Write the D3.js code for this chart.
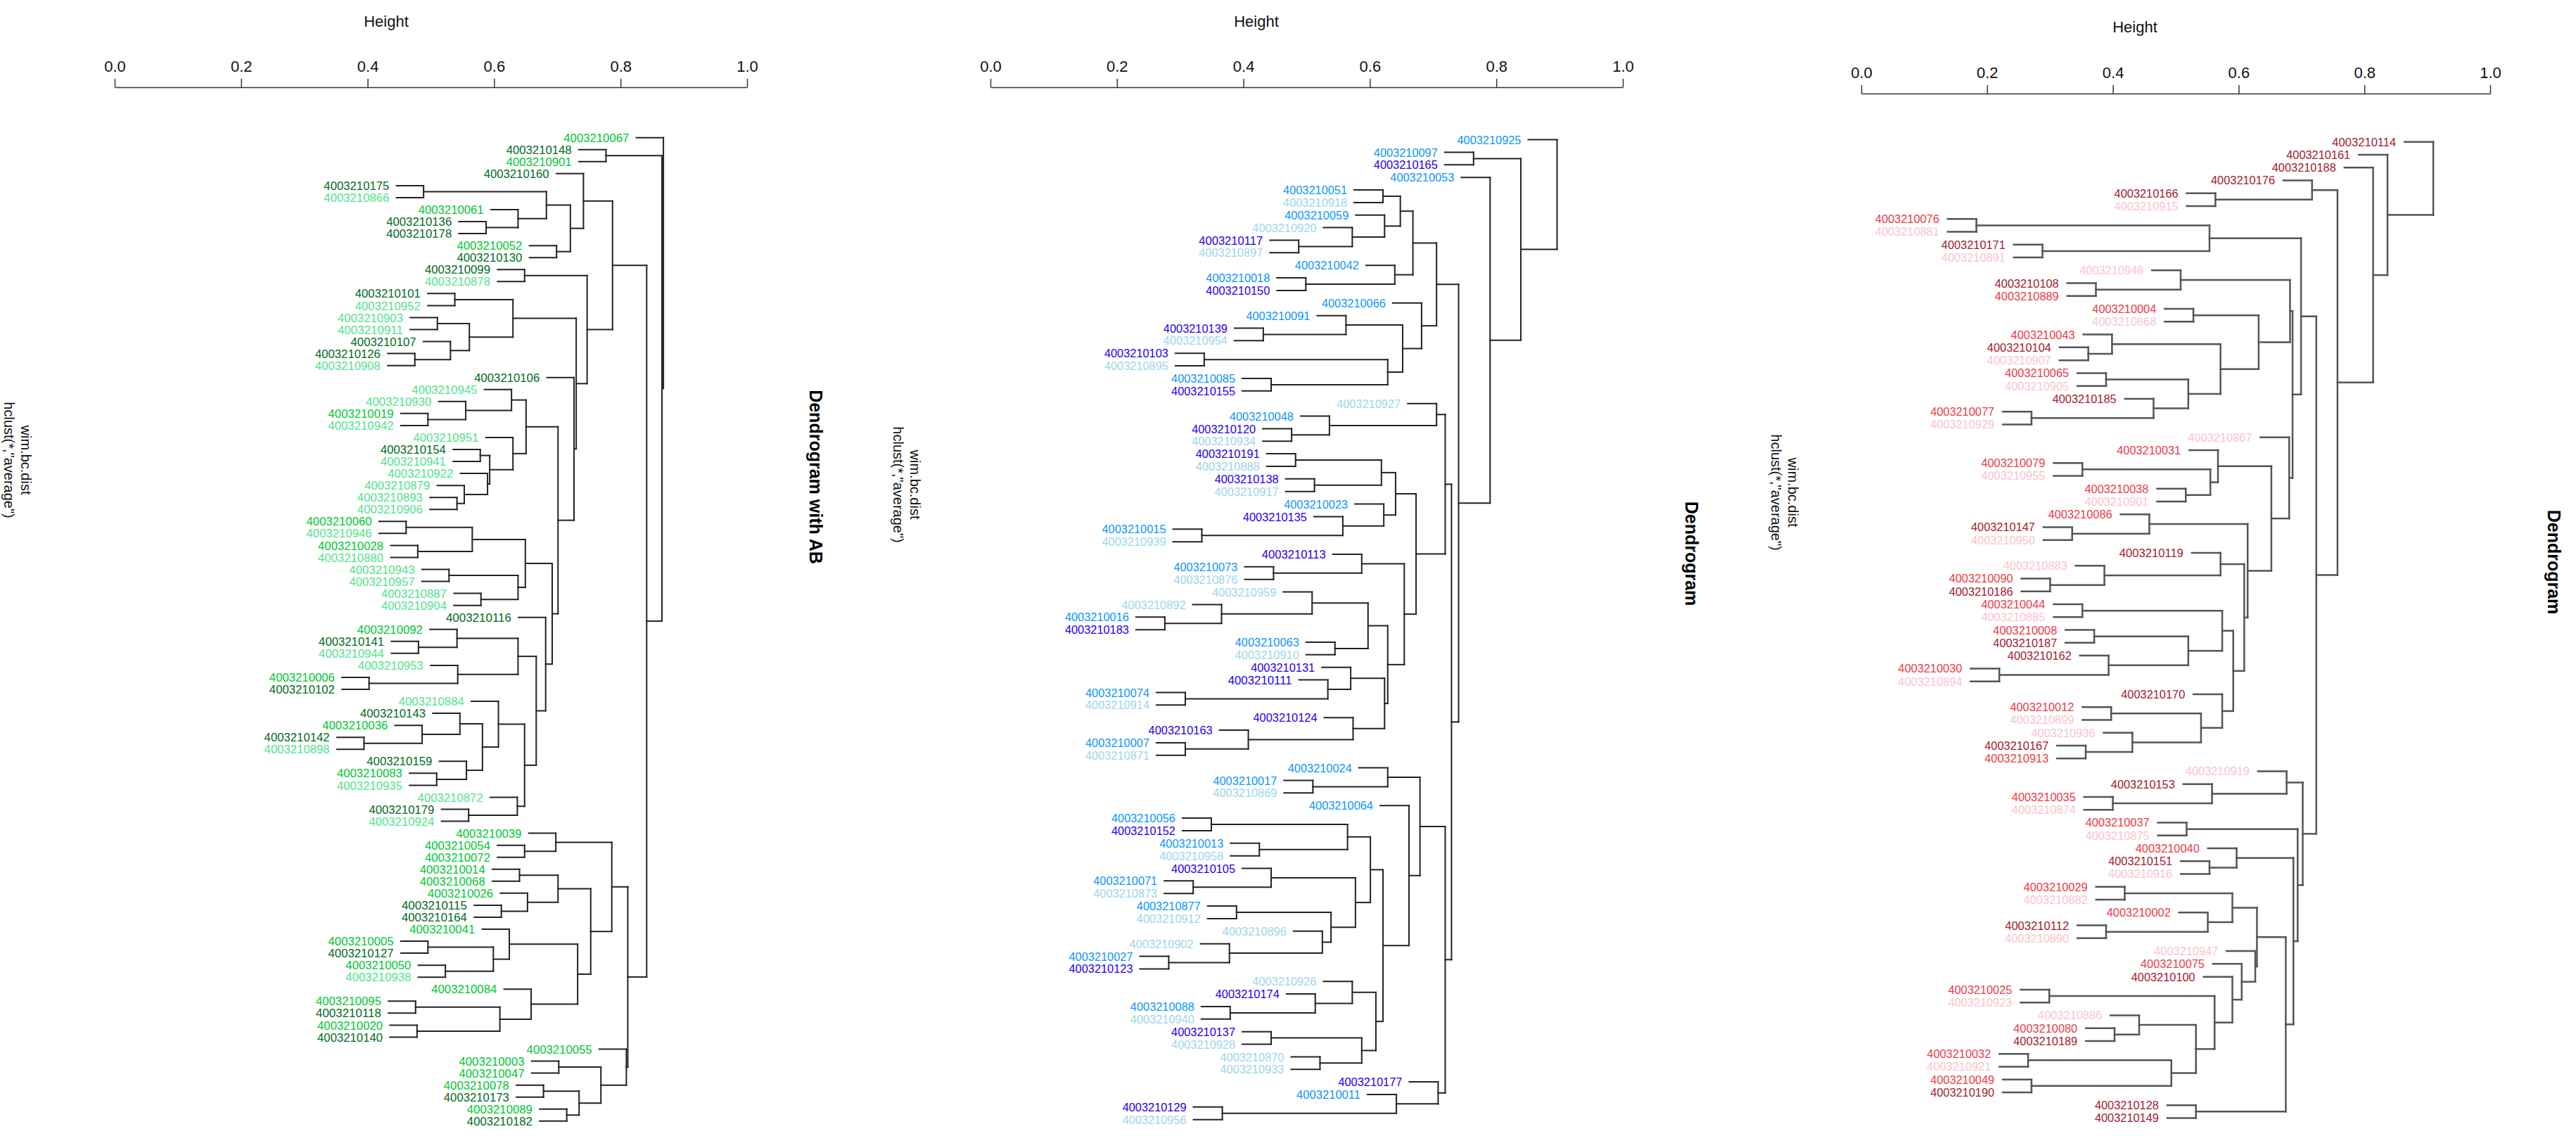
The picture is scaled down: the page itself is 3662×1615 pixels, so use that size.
<!DOCTYPE html>
<html>
<head>
<meta charset="utf-8">
<script src="https://cdn.jsdelivr.net/npm/d3@7"></script>
<style>
  body { margin: 0; background: #fff; }
  text { font-family: "Liberation Sans", Arial, sans-serif; }
</style>
</head>
<body>
<svg id="chart"></svg>
<script>
// ---------- data ----------
// leaf ids are the last three digits of "4003210xxx"
// merges: [node, height, upper child, lower child]; last row is the root

var leaves1 = ["067","148","901","160","175","866","061","136","178","052","130","099","878","101","952","903","911","107","126","908","106","945","930","019","942","951","154","941","922","879","893","906","060","946","028","880","943","957","887","904","116","092","141","944","953","006","102","884","143","036","142","898","159","083","935","872","179","924","039","054","072","014","068","026","115","164","041","005","127","050","938","084","095","118","020","140","055","003","047","078","173","089","182"];
var groups1 = "BDBDDLBDDB" + "DDLDLLLDDL" + "DLLBLLDLLL" + "LLBLBLLLLL" + "DBDLLBDLDB" + "DLDBLLDLBB" + "BBBBDDBBDB" + "LBBDBDBBBB" + "DBD";
var merges1 = [
  ["a01",0.501,"175","866"], ["a02",0.587,"136","178"], ["a03",0.631,"061","a02"], ["a04",0.670,"a01","a03"],
  ["a05",0.684,"052","130"], ["a06",0.703,"a04","a05"], ["a07",0.721,"160","a06"], ["a08",0.640,"099","878"],
  ["a09",0.544,"101","952"], ["a10",0.520,"903","911"], ["a11",0.489,"126","908"], ["a12",0.538,"107","a11"],
  ["a13",0.564,"a10","a12"], ["a14",0.624,"a09","a13"], ["a15",0.507,"019","942"], ["a16",0.559,"930","a15"],
  ["a17",0.622,"945","a16"], ["a18",0.579,"154","941"], ["a19",0.547,"893","906"], ["a20",0.557,"879","a19"],
  ["a21",0.589,"922","a20"], ["a22",0.592,"a18","a21"], ["a23",0.624,"951","a22"], ["a24",0.642,"a17","a23"],
  ["a25",0.477,"060","946"], ["a26",0.493,"028","880"], ["a27",0.568,"a25","a26"], ["a28",0.536,"943","957"],
  ["a29",0.580,"887","904"], ["a30",0.631,"a28","a29"], ["a31",0.641,"a27","a30"], ["a32",0.494,"141","944"],
  ["a33",0.547,"092","a32"], ["a34",0.426,"006","102"], ["a35",0.548,"953","a34"], ["a36",0.631,"a33","a35"],
  ["a37",0.419,"142","898"], ["a38",0.499,"036","a37"], ["a39",0.551,"143","a38"], ["a40",0.519,"083","935"],
  ["a41",0.560,"159","a40"], ["a42",0.582,"a39","a41"], ["a43",0.604,"884","a42"], ["a44",0.563,"179","924"],
  ["a45",0.630,"872","a44"], ["a46",0.640,"a43","a45"], ["a47",0.656,"a36","a46"], ["a48",0.669,"116","a47"],
  ["a49",0.678,"a31","a48"], ["a50",0.686,"a24","a49"], ["a51",0.708,"106","a50"], ["a52",0.711,"a14","a51"],
  ["a53",0.726,"a08","a52"], ["a54",0.761,"a07","a53"], ["a55",0.640,"054","072"], ["a56",0.683,"039","a55"],
  ["a57",0.633,"014","068"], ["a58",0.608,"115","164"], ["a59",0.644,"026","a58"], ["a60",0.686,"a57","a59"],
  ["a61",0.507,"005","127"], ["a62",0.531,"050","938"], ["a63",0.597,"a61","a62"], ["a64",0.619,"041","a63"],
  ["a65",0.490,"095","118"], ["a66",0.492,"020","140"], ["a67",0.606,"a65","a66"], ["a68",0.649,"084","a67"],
  ["a69",0.713,"a64","a68"], ["a70",0.731,"a60","a69"], ["a71",0.760,"a56","a70"], ["a72",0.687,"003","047"],
  ["a73",0.666,"078","173"], ["a74",0.698,"089","182"], ["a75",0.715,"a73","a74"], ["a76",0.745,"a72","a75"],
  ["a77",0.780,"055","a76"], ["a78",0.782,"a71","a77"], ["a79",0.808,"a54","a78"], ["a80",0.752,"148","901"],
  ["a81",0.829,"a80","a79"], ["a82",0.831,"067","a81"]
];

var leaves2 = ["925","097","165","053","051","918","059","920","117","897","042","018","150","066","091","139","954","103","895","085","155","927","048","120","934","191","888","138","917","023","135","015","939","113","073","876","959","892","016","183","063","910","131","111","074","914","124","163","007","871","024","017","869","064","056","152","013","958","105","071","873","877","912","896","902","027","123","926","174","088","940","137","928","870","933","177","011","129","956"];
var groups2 = "MMDMMLMLDL" + "MMDMMDLDLM" + "DLMDLDLDLM" + "DMLDMLLLMD" + "MLDDMLDDML" + "MMLMMDMLDM" + "LMLLLMDLDM" + "LDLLLDMDL";
var merges2 = [
  ["b01",0.558,"051","918"], ["b02",0.451,"117","897"], ["b03",0.519,"920","b02"], ["b04",0.560,"059","b03"],
  ["b05",0.580,"b01","b04"], ["b06",0.460,"018","150"], ["b07",0.573,"042","b06"], ["b08",0.596,"b05","b07"],
  ["b09",0.406,"139","954"], ["b10",0.511,"091","b09"], ["b11",0.331,"103","895"], ["b12",0.416,"085","155"],
  ["b13",0.564,"b11","b12"], ["b14",0.583,"b10","b13"], ["b15",0.607,"066","b14"], ["b16",0.626,"b08","b15"],
  ["b17",0.442,"120","934"], ["b18",0.490,"048","b17"], ["b19",0.626,"927","b18"], ["b20",0.447,"191","888"],
  ["b21",0.471,"138","917"], ["b22",0.556,"b20","b21"], ["b23",0.328,"015","939"], ["b24",0.507,"135","b23"],
  ["b25",0.559,"023","b24"], ["b26",0.574,"b22","b25"], ["b27",0.419,"073","876"], ["b28",0.531,"113","b27"],
  ["b29",0.281,"016","183"], ["b30",0.353,"892","b29"], ["b31",0.468,"959","b30"], ["b32",0.497,"063","910"],
  ["b33",0.539,"b31","b32"], ["b34",0.307,"074","914"], ["b35",0.488,"111","b34"], ["b36",0.517,"131","b35"],
  ["b37",0.307,"007","871"], ["b38",0.387,"163","b37"], ["b39",0.520,"124","b38"], ["b40",0.560,"b36","b39"],
  ["b41",0.564,"b33","b40"], ["b42",0.585,"b28","b41"], ["b43",0.600,"b26","b42"], ["b44",0.637,"b19","b43"],
  ["b45",0.469,"017","869"], ["b46",0.564,"024","b45"], ["b47",0.340,"056","152"], ["b48",0.401,"013","958"],
  ["b49",0.513,"b47","b48"], ["b50",0.317,"071","873"], ["b51",0.416,"105","b50"], ["b52",0.372,"877","912"],
  ["b53",0.286,"027","123"], ["b54",0.363,"902","b53"], ["b55",0.481,"896","b54"], ["b56",0.492,"b52","b55"],
  ["b57",0.523,"b51","b56"], ["b58",0.542,"b49","b57"], ["b59",0.364,"088","940"], ["b60",0.472,"174","b59"],
  ["b61",0.519,"926","b60"], ["b62",0.416,"137","928"], ["b63",0.478,"870","933"], ["b64",0.531,"b62","b63"],
  ["b65",0.549,"b61","b64"], ["b66",0.558,"b58","b65"], ["b67",0.591,"064","b66"], ["b68",0.605,"b46","b67"],
  ["b69",0.354,"129","956"], ["b70",0.575,"011","b69"], ["b71",0.628,"177","b70"], ["b72",0.637,"b68","b71"],
  ["b73",0.645,"b44","b72"], ["b74",0.654,"b16","b73"], ["b75",0.673,"097","165"], ["b76",0.694,"053","b74"],
  ["b77",0.733,"b75","b76"], ["b78",0.779,"925","b77"]
];

var leaves3 = ["114","161","188","176","166","915","076","881","171","891","948","108","889","004","868","043","104","907","065","905","185","077","929","867","031","079","955","038","901","086","147","950","119","883","090","186","044","885","008","187","162","030","894","170","012","899","936","167","913","919","153","035","874","037","875","040","151","916","029","882","002","112","890","947","075","100","025","923","886","080","189","032","921","049","190","128","149"];
var groups3 = "DDDDDPRPDP" + "PDRRPRDPRP" + "DRPPRRPRPR" + "DPDPRDRPRD" + "DRPDRPPDRP" + "DRPRPRDPRP" + "RDPPRDRPPR" + "DRPRDDD";
var merges3 = [
  ["c01",0.523,"166","915"], ["c02",0.637,"176","c01"], ["c03",0.241,"076","881"], ["c04",0.319,"171","891"],
  ["c05",0.516,"c03","c04"], ["c06",0.382,"108","889"], ["c07",0.482,"948","c06"], ["c08",0.497,"004","868"],
  ["c09",0.373,"104","907"], ["c10",0.401,"043","c09"], ["c11",0.394,"065","905"], ["c12",0.306,"077","929"],
  ["c13",0.450,"185","c12"], ["c14",0.491,"c11","c13"], ["c15",0.529,"c10","c14"], ["c16",0.574,"c08","c15"],
  ["c17",0.611,"c07","c16"], ["c18",0.366,"079","955"], ["c19",0.488,"038","901"], ["c20",0.517,"c18","c19"],
  ["c21",0.526,"031","c20"], ["c22",0.354,"147","950"], ["c23",0.445,"086","c22"], ["c24",0.328,"090","186"],
  ["c25",0.392,"883","c24"], ["c26",0.529,"119","c25"], ["c27",0.366,"044","885"], ["c28",0.380,"008","187"],
  ["c29",0.268,"030","894"], ["c30",0.397,"162","c29"], ["c31",0.491,"c28","c30"], ["c32",0.531,"c27","c31"],
  ["c33",0.400,"012","899"], ["c34",0.370,"167","913"], ["c35",0.425,"936","c34"], ["c36",0.506,"c33","c35"],
  ["c37",0.531,"170","c36"], ["c38",0.544,"c32","c37"], ["c39",0.557,"c26","c38"], ["c40",0.561,"c23","c39"],
  ["c41",0.589,"c21","c40"], ["c42",0.610,"867","c41"], ["c43",0.614,"c17","c42"], ["c44",0.624,"c05","c43"],
  ["c45",0.402,"035","874"], ["c46",0.519,"153","c45"], ["c47",0.607,"919","c46"], ["c48",0.489,"037","875"],
  ["c49",0.516,"151","916"], ["c50",0.548,"040","c49"], ["c51",0.416,"029","882"], ["c52",0.394,"112","890"],
  ["c53",0.514,"002","c52"], ["c54",0.543,"c51","c53"], ["c55",0.327,"025","923"], ["c56",0.404,"080","189"],
  ["c57",0.433,"886","c56"], ["c58",0.302,"032","921"], ["c59",0.306,"049","190"], ["c60",0.471,"c58","c59"],
  ["c61",0.500,"c57","c60"], ["c62",0.522,"c55","c61"], ["c63",0.543,"100","c62"], ["c64",0.554,"075","c63"],
  ["c65",0.570,"947","c64"], ["c66",0.572,"c54","c65"], ["c67",0.500,"128","149"], ["c68",0.606,"c66","c67"],
  ["c69",0.615,"c50","c68"], ["c70",0.620,"c48","c69"], ["c71",0.626,"c47","c70"], ["c72",0.642,"c44","c71"],
  ["c73",0.667,"c02","c72"], ["c74",0.709,"188","c73"], ["c75",0.726,"161","c74"], ["c76",0.780,"114","c75"]
];

var ticks = [0.0, 0.2, 0.4, 0.6, 0.8, 1.0];

// ---------- layout ----------
var W = 3662, H = 1615;
var svg = d3.select("#chart").attr("width", W).attr("height", H);
svg.append("rect").attr("width", W).attr("height", H).attr("fill", "#fff");

var panels = [
  { merges: merges1, leaves: leaves1, groups: groups1,
    colors: { B: "#00c832", D: "#006b23", L: "#52e38c" },
    y0: 195.7, y1: 1593.8, treeRange: [84.5, 1117.7], hang: 38.5, gap: 10.3,
    font: 17, textLen: 93, stroke: "#222", sw: 2,
    axisRange: [163, 1062], axisY: 124, heightX: 549, heightY: 30,
    title: "Dendrogram with AB", titleX: 1160, titleY: 678,
    subX: 26, subY: 654 },
  { merges: merges2, leaves: leaves2, groups: groups2,
    colors: { M: "#0a96ff", D: "#1e00f5", L: "#9cd6ea" },
    y0: 198.6, y1: 1591.7, treeRange: [1341.3, 2460.9], hang: 41, gap: 10,
    font: 17, textLen: 91, stroke: "#222", sw: 2,
    axisRange: [1408, 2307], axisY: 124, heightX: 1786, heightY: 30,
    title: "Dendrogram", titleX: 2405, titleY: 787,
    subX: 1290, subY: 689 },
  { merges: merges3, leaves: leaves3, groups: groups3,
    colors: { R: "#ec3b45", D: "#a3202e", P: "#fbc3ce" },
    y0: 201.7, y1: 1589.5, treeRange: [2519.2, 3724.2], hang: 40.8, gap: 12,
    font: 16.5, textLen: 91, stroke: "#555", sw: 2.5,
    axisRange: [2646, 3540], axisY: 133, heightX: 3035, heightY: 38,
    title: "Dendrogram", titleX: 3631, titleY: 799,
    subX: 2538, subY: 700 }
];

function buildTree(merges) {
  var nodes = {};
  merges.forEach(function (m) { nodes[m[0]] = m; });
  function make(id) {
    var m = nodes[id];
    return m ? { id: id, h: m[1], children: [make(m[2]), make(m[3])] } : { id: id };
  }
  return make(merges[merges.length - 1][0]);
}

panels.forEach(drawPanel);

function drawPanel(p) {
  var g = svg.append("g");
  var colorOf = {};
  p.leaves.forEach(function (id, i) { colorOf[id] = p.colors[p.groups[i]]; });

  var root = d3.hierarchy(buildTree(p.merges));
  var leafNodes = root.leaves();
  var y = d3.scaleLinear().domain([0, leafNodes.length - 1]).range([p.y0, p.y1]);
  var x = d3.scaleLinear().domain([0, 1]).range(p.treeRange);

  leafNodes.forEach(function (l, i) { l.py = y(i); });
  root.eachAfter(function (n) {
    if (n.children) {
      n.px = x(n.data.h);
      n.py = (n.children[0].py + n.children[1].py) / 2;
    }
  });
  leafNodes.forEach(function (l) { l.px = l.parent.px - p.hang; });

  var segs = [];
  root.descendants().forEach(function (n) {
    if (n.parent) segs.push([n.px, n.py, n.parent.px, n.py]);
    if (n.children) segs.push([n.px, n.children[0].py, n.px, n.children[1].py]);
  });

  g.selectAll("line.seg").data(segs).enter().append("line")
    .attr("class", "seg")
    .attr("x1", function (d) { return d[0]; }).attr("y1", function (d) { return d[1]; })
    .attr("x2", function (d) { return d[2]; }).attr("y2", function (d) { return d[3]; })
    .attr("stroke", p.stroke).attr("stroke-width", p.sw).attr("stroke-linecap", "square");

  g.selectAll("text.leaf").data(leafNodes).enter().append("text")
    .attr("class", "leaf")
    .attr("x", function (d) { return d.px - p.gap; })
    .attr("y", function (d) { return d.py; })
    .attr("dy", "0.36em")
    .attr("text-anchor", "end")
    .attr("font-size", p.font)
    .attr("textLength", p.textLen)
    .attr("lengthAdjust", "spacingAndGlyphs")
    .attr("fill", function (d) { return colorOf[d.data.id]; })
    .text(function (d) { return "4003210" + d.data.id; });

  // height axis on top
  var ax = d3.scaleLinear().domain([0, 1]).range(p.axisRange);
  var axis = g.append("g")
    .attr("transform", "translate(0," + p.axisY + ")")
    .call(d3.axisTop(ax).tickValues(ticks).tickFormat(d3.format(".1f")).tickSize(12).tickSizeOuter(0).tickPadding(10));
  axis.select(".domain").attr("stroke", "#333").attr("stroke-width", 1.5);
  axis.selectAll(".tick line").attr("stroke", "#333").attr("stroke-width", 1.5);
  axis.selectAll(".tick text").attr("font-size", 22).attr("fill", "#111")
    .style("font-family", "'Liberation Sans', Arial, sans-serif");

  g.append("text")
    .attr("x", p.heightX).attr("y", p.heightY)
    .attr("text-anchor", "middle").attr("dy", "0.35em")
    .attr("font-size", 22).attr("fill", "#111").text("Height");

  g.append("text")
    .attr("transform", "translate(" + p.titleX + "," + p.titleY + ") rotate(90)")
    .attr("text-anchor", "middle").attr("dy", "0.35em")
    .attr("font-size", 25).attr("font-weight", "bold").attr("fill", "#000")
    .text(p.title);

  var sub = g.append("text")
    .attr("transform", "translate(" + p.subX + "," + p.subY + ") rotate(90)")
    .attr("text-anchor", "middle")
    .attr("font-size", 20).attr("fill", "#111");
  sub.append("tspan").attr("x", 0).attr("dy", "-0.2em").text("wim.bc.dist");
  sub.append("tspan").attr("x", 0).attr("dy", "1.2em").text("hclust(*,\"average\")");
}
</script>
</body>
</html>
